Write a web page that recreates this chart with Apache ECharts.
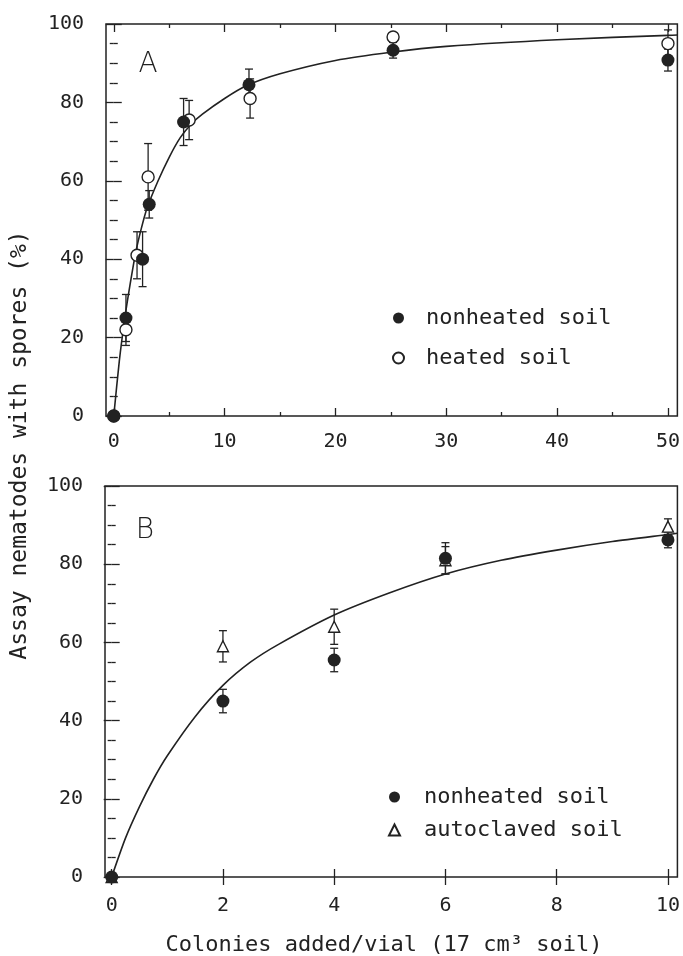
<!DOCTYPE html>
<html>
<head>
<meta charset="utf-8">
<script src="https://cdn.jsdelivr.net/npm/echarts@6/dist/echarts.min.js"></script>
<style>
  html, body { margin: 0; padding: 0; background: #fff; }
  #chart { width: 683px; height: 956px; }
</style>
</head>
<body>
<div id="chart"></div>
<script>
// panel A: colonies added (x), % nematodes with spores (y), +/- error
var xA_non = [0, 1.1, 2.6, 3.2, 6.3, 12.2, 25.2, 50];
var yA_non = [0, 25, 40, 54, 75, 84.5, 93.3, 90.8];
var eA_non = [0, 6, 7, 3.5, 6, 4, 2, 2.8];
var xA_heat = [0, 1.1, 2.1, 3.1, 6.8, 12.3, 25.2, 50];
var yA_heat = [0, 22, 41, 61, 75.5, 81, 96.7, 95];
var eA_heat = [0, 4, 6, 8.5, 5, 5, 0, 3.5];
// fitted curve A
var curveAx = [0, 0.5, 1, 1.5, 2, 2.5, 3, 4, 5, 6, 7, 8, 10, 12, 15, 20, 25, 30, 40, 50, 50.85];
var curveAy = [0, 14, 25, 34, 42, 48, 53, 60, 66, 71, 74.5, 77, 81, 84.3, 87.3, 90.7, 92.8, 94.3, 96, 97.1, 97.2];

// panel B
var xB_non = [0, 2, 4, 6, 10];
var yB_non = [0, 45, 55.5, 81.5, 86.2];
var eB_non = [0, 3, 3, 4, 2];
var xB_auto = [0, 2, 4, 6, 10];
var yB_auto = [0, 59, 64, 81, 89.6];
var eB_auto = [0, 4, 4.5, 3.5, 2];
var curveBx = [0, 0.25, 0.5, 0.75, 1, 1.5, 2, 2.5, 3, 4, 5, 6, 7, 8, 9, 10, 10.17];
var curveBy = [0, 10, 18, 25, 31, 41, 49, 55, 59.5, 67, 72.7, 77.5, 81, 83.6, 85.8, 87.6, 87.9];

var ticksA = [0, 10, 20, 30, 40, 50];
var minorA = [5, 15, 25, 35, 45];
var ticksB = [0, 2, 4, 6, 8, 10];

var ink = '#222';
var mono = '"DejaVu Sans Mono", monospace';

function pairs(xs, ys) {
    var out = [];
    for (var i = 0; i < xs.length; i++) out.push([xs[i], ys[i]]);
    return out;
}

function bars(xs, ys, es) {
    var out = [];
    for (var i = 0; i < xs.length; i++) {
        if (es[i] > 0) out.push([xs[i], ys[i] - es[i], ys[i] + es[i]]);
    }
    return out;
}

function barItem(params, api) {
    var x = api.value(0);
    var top = api.coord([x, api.value(2)]);
    var bot = api.coord([x, api.value(1)]);
    var w = 4;
    var st = { stroke: ink, lineWidth: 1.3 };
    return {
        type: 'group',
        children: [
            { type: 'line', shape: { x1: top[0], y1: top[1], x2: bot[0], y2: bot[1] }, style: st },
            { type: 'line', shape: { x1: top[0] - w, y1: top[1], x2: top[0] + w, y2: top[1] }, style: st },
            { type: 'line', shape: { x1: bot[0] - w, y1: bot[1], x2: bot[0] + w, y2: bot[1] }, style: st }
        ]
    };
}

function xAx(grid, pos, min, max, ticks, len, labels, margin) {
    return {
        type: 'value', gridIndex: grid, position: pos, min: min, max: max,
        axisLine: { show: false },
        splitLine: { show: false },
        axisTick: { show: true, inside: true, length: len, customValues: ticks, lineStyle: { color: ink, width: 1.3 } },
        axisLabel: { show: labels, customValues: ticks, margin: margin, fontFamily: mono, fontSize: 20, color: ink }
    };
}

function yAx(grid, pos, labels) {
    return {
        type: 'value', gridIndex: grid, position: pos, min: 0, max: 100, interval: 20,
        axisLine: { show: false },
        splitLine: { show: false },
        axisTick: { show: true, inside: true, length: 8, lineStyle: { color: ink, width: 1.3 } },
        minorTick: { show: true, splitNumber: 4, length: 4, lineStyle: { color: ink, width: 1.3 } },
        axisLabel: { show: labels, margin: 22, fontFamily: mono, fontSize: 20, color: ink }
    };
}

function legendBox(names, left, top, gap, pad) {
    return {
        data: names, orient: 'vertical', left: left, top: top,
        itemWidth: 11, itemHeight: 11, itemGap: gap, selectedMode: false,
        textStyle: { fontFamily: mono, fontSize: 22, color: ink, padding: [0, 0, 0, pad] }
    };
}

var myChart = echarts.init(document.getElementById('chart'), null, { renderer: 'canvas' });

var option = {
    animation: false,
    backgroundColor: '#fff',
    grid: [
        { left: 106, right: 3, top: 24, height: 392, show: true, borderColor: ink, borderWidth: 1.5 },
        { left: 105, right: 5, top: 486, height: 391, show: true, borderColor: ink, borderWidth: 1.5 }
    ],
    xAxis: [
        xAx(0, 'bottom', -0.7, 50.85, ticksA, 8, true, 16),
        xAx(0, 'bottom', -0.7, 50.85, minorA, 4, false, 0),
        xAx(0, 'top', -0.7, 50.85, ticksA, 8, false, 0),
        xAx(0, 'top', -0.7, 50.85, minorA, 4, false, 0),
        xAx(1, 'bottom', -0.12, 10.17, ticksB, 8, true, 19),
        xAx(1, 'top', -0.12, 10.17, ticksB, 8, false, 0)
    ],
    yAxis: [
        yAx(0, 'left', true),
        yAx(0, 'right', false),
        yAx(1, 'left', true),
        yAx(1, 'right', false)
    ],
    legend: [
        legendBox(['nonheated soil', 'heated soil'], 387, 302, 18, 17),
        legendBox(['nonheated soil', 'autoclaved soil'], 383, 781, 11, 19)
    ],
    graphic: [
        { type: 'text', x: 148, y: 65, style: { text: 'A', fontFamily: '"DejaVu Sans"', fontWeight: 200, fontSize: 28, fill: ink, textAlign: 'center', textVerticalAlign: 'middle' } },
        { type: 'text', x: 145, y: 531, style: { text: 'B', fontFamily: '"DejaVu Sans"', fontWeight: 200, fontSize: 28, fill: ink, textAlign: 'center', textVerticalAlign: 'middle' } },
        { type: 'text', x: 20, y: 445, rotation: Math.PI / 2, style: { text: 'Assay nematodes with spores (%)', fontFamily: mono, fontSize: 23, fill: ink, textAlign: 'center', textVerticalAlign: 'middle' } },
        { type: 'text', x: 384, y: 945, style: { text: 'Colonies added/vial (17 cm³ soil)', fontFamily: mono, fontSize: 22, fill: ink, textAlign: 'center', textVerticalAlign: 'middle' } }
    ],
    series: [
        {
            name: 'fit A', type: 'line', xAxisIndex: 0, yAxisIndex: 0,
            data: pairs(curveAx, curveAy), showSymbol: false, smooth: 0.25,
            lineStyle: { color: ink, width: 1.6 }, z: 2
        },
        {
            name: 'bars A heated', type: 'custom', xAxisIndex: 0, yAxisIndex: 0,
            data: bars(xA_heat, yA_heat, eA_heat), renderItem: barItem, z: 3
        },
        {
            name: 'bars A nonheated', type: 'custom', xAxisIndex: 0, yAxisIndex: 0,
            data: bars(xA_non, yA_non, eA_non), renderItem: barItem, z: 3
        },
        {
            name: 'heated soil', type: 'scatter', xAxisIndex: 0, yAxisIndex: 0,
            data: pairs(xA_heat, yA_heat), symbol: 'circle', symbolSize: 12,
            itemStyle: { color: '#fff', borderColor: ink, borderWidth: 1.4, opacity: 1 }, z: 4
        },
        {
            name: 'nonheated soil', type: 'scatter', xAxisIndex: 0, yAxisIndex: 0,
            data: pairs(xA_non, yA_non), symbol: 'circle', symbolSize: 13,
            itemStyle: { color: ink, opacity: 1 }, z: 5
        },
        {
            name: 'fit B', type: 'line', xAxisIndex: 4, yAxisIndex: 2,
            data: pairs(curveBx, curveBy), showSymbol: false, smooth: 0.25,
            lineStyle: { color: ink, width: 1.6 }, z: 2
        },
        {
            name: 'bars B autoclaved', type: 'custom', xAxisIndex: 4, yAxisIndex: 2,
            data: bars(xB_auto, yB_auto, eB_auto), renderItem: barItem, z: 3
        },
        {
            name: 'bars B nonheated', type: 'custom', xAxisIndex: 4, yAxisIndex: 2,
            data: bars(xB_non, yB_non, eB_non), renderItem: barItem, z: 3
        },
        {
            name: 'autoclaved soil', type: 'scatter', xAxisIndex: 4, yAxisIndex: 2,
            data: pairs(xB_auto, yB_auto), symbol: 'triangle', symbolSize: 11,
            itemStyle: { color: '#fff', borderColor: ink, borderWidth: 1.4, opacity: 1 }, z: 4
        },
        {
            name: 'nonheated soil', type: 'scatter', xAxisIndex: 4, yAxisIndex: 2,
            data: pairs(xB_non, yB_non), symbol: 'circle', symbolSize: 13,
            itemStyle: { color: ink, opacity: 1 }, z: 5
        }
    ]
};
myChart.setOption(option);
</script>
</body>
</html>
